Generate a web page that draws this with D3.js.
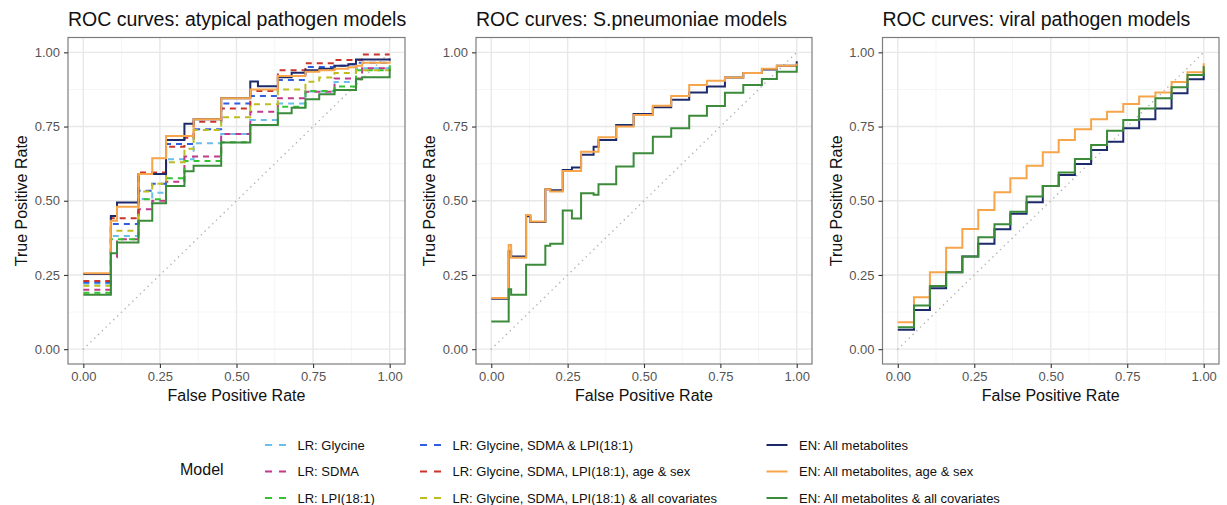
<!DOCTYPE html>
<html><head><meta charset="utf-8">
<script src="https://cdn.jsdelivr.net/npm/d3@7"></script>
<style>body{margin:0;background:#fff}svg{display:block;font-family:"Liberation Sans",Arial,Helvetica,sans-serif}</style>
</head><body><svg id="c" width="1227" height="505"></svg>
<script>
// ---------- data ----------
const panelTitles = ["ROC curves: atypical pathogen models", "ROC curves: S.pneumoniae models", "ROC curves: viral pathogen models"];
const tickValues = [0, 0.25, 0.5, 0.75, 1];
const tickLabels = ["0.00", "0.25", "0.50", "0.75", "1.00"];
const modelNames = ["LR: Glycine", "LR: SDMA", "LR: LPI(18:1)", "LR: Glycine, SDMA & LPI(18:1)", "LR: Glycine, SDMA, LPI(18:1), age & sex", "LR: Glycine, SDMA, LPI(18:1) & all covariates", "EN: All metabolites", "EN: All metabolites, age & sex", "EN: All metabolites & all covariates"];

// atypical pathogen panel: false positive rates and true positive rates
const atypFPR = [0, 0.09, 0.11, 0.18, 0.225, 0.27, 0.33, 0.36, 0.45, 0.545, 0.57, 0.635, 0.68, 0.725, 0.77, 0.82, 0.865, 0.89, 0.91, 1.0];
const atypGlycine = [0.221, 0.381, 0.381, 0.506, 0.527, 0.640, 0.640, 0.694, 0.725, 0.772, 0.772, 0.828, 0.828, 0.868, 0.868, 0.900, 0.900, 0.946, 0.946, 0.960];
const atypSDMA = [0.200, 0.310, 0.370, 0.471, 0.500, 0.564, 0.649, 0.649, 0.725, 0.800, 0.800, 0.845, 0.845, 0.867, 0.867, 0.912, 0.912, 0.912, 0.946, 0.950];
const atypLPI = [0.190, 0.370, 0.370, 0.505, 0.505, 0.576, 0.634, 0.634, 0.697, 0.755, 0.755, 0.817, 0.817, 0.870, 0.870, 0.885, 0.885, 0.940, 0.940, 0.957];
const atypGSL = [0.225, 0.422, 0.422, 0.534, 0.557, 0.691, 0.691, 0.741, 0.828, 0.853, 0.853, 0.907, 0.907, 0.951, 0.951, 0.955, 0.960, 0.965, 0.965, 0.975];
const atypAgeSex = [0.230, 0.441, 0.441, 0.595, 0.595, 0.682, 0.712, 0.766, 0.811, 0.870, 0.870, 0.940, 0.940, 0.963, 0.963, 0.974, 0.974, 0.974, 0.993, 0.993];
const atypAllCov = [0.214, 0.399, 0.399, 0.531, 0.557, 0.630, 0.675, 0.738, 0.781, 0.825, 0.825, 0.875, 0.875, 0.901, 0.915, 0.930, 0.930, 0.940, 0.940, 0.960];
const atypEN = [0.253, 0.449, 0.494, 0.590, 0.590, 0.705, 0.759, 0.775, 0.845, 0.902, 0.886, 0.916, 0.931, 0.940, 0.945, 0.955, 0.960, 0.976, 0.976, 0.980];
const atypENAgeSex = [0.256, 0.433, 0.480, 0.590, 0.643, 0.718, 0.718, 0.775, 0.845, 0.875, 0.875, 0.920, 0.920, 0.935, 0.940, 0.945, 0.950, 0.955, 0.965, 0.970];
const atypENAllCov = [0.183, 0.323, 0.359, 0.433, 0.492, 0.550, 0.599, 0.618, 0.696, 0.755, 0.755, 0.795, 0.813, 0.842, 0.859, 0.873, 0.873, 0.909, 0.916, 0.945];

// S.pneumoniae panel
const pneuFPR = [0, 0.057, 0.065, 0.114, 0.128, 0.177, 0.193, 0.234, 0.264, 0.294, 0.335, 0.351, 0.409, 0.466, 0.529, 0.589, 0.648, 0.706, 0.765, 0.825, 0.886, 0.935, 1.0];
const pneuEN = [0.170, 0.330, 0.312, 0.448, 0.428, 0.539, 0.535, 0.604, 0.612, 0.655, 0.682, 0.705, 0.755, 0.792, 0.815, 0.840, 0.865, 0.885, 0.915, 0.930, 0.942, 0.955, 0.970];
const pneuENAgeSex = [0.172, 0.351, 0.308, 0.452, 0.430, 0.539, 0.531, 0.600, 0.600, 0.665, 0.665, 0.714, 0.750, 0.789, 0.820, 0.853, 0.890, 0.904, 0.915, 0.930, 0.945, 0.955, 0.962];
const pneuENAllCov = [0.093, 0.202, 0.183, 0.284, 0.284, 0.348, 0.355, 0.467, 0.440, 0.525, 0.520, 0.556, 0.615, 0.660, 0.716, 0.744, 0.786, 0.819, 0.864, 0.890, 0.910, 0.935, 0.955];

// viral pathogen panel
const viralFPR = [0, 0.053, 0.105, 0.158, 0.211, 0.263, 0.316, 0.368, 0.421, 0.474, 0.526, 0.579, 0.632, 0.684, 0.737, 0.789, 0.842, 0.895, 0.947, 1.0];
const viralEN = [0.065, 0.132, 0.205, 0.259, 0.312, 0.355, 0.404, 0.456, 0.495, 0.550, 0.587, 0.624, 0.671, 0.699, 0.744, 0.775, 0.811, 0.862, 0.909, 0.935];
const viralENAgeSex = [0.091, 0.175, 0.259, 0.342, 0.405, 0.469, 0.529, 0.576, 0.618, 0.663, 0.705, 0.741, 0.775, 0.800, 0.826, 0.851, 0.865, 0.900, 0.933, 0.963];
const viralENAllCov = [0.074, 0.147, 0.213, 0.259, 0.312, 0.377, 0.421, 0.463, 0.514, 0.550, 0.595, 0.641, 0.688, 0.736, 0.772, 0.811, 0.845, 0.882, 0.924, 0.954];

// ---------- styles ----------
const palette = ["#6BBDEB", "#C2388A", "#33C433", "#2F5FE0", "#C9352C", "#BDBD22", "#1C2A6B", "#F6A54B", "#3B8B3B"];
const dashedModel = [true, true, true, true, true, true, false, false, false];

const panels = [
  {title: panelTitles[0], fpr: atypFPR, series: [[0, atypGlycine], [1, atypSDMA], [2, atypLPI], [3, atypGSL], [4, atypAgeSex], [5, atypAllCov], [6, atypEN], [7, atypENAgeSex], [8, atypENAllCov]], left: 68, right: 405},
  {title: panelTitles[1], fpr: pneuFPR, series: [[6, pneuEN], [7, pneuENAgeSex], [8, pneuENAllCov]], left: 476, right: 812},
  {title: panelTitles[2], fpr: viralFPR, series: [[6, viralEN], [7, viralENAgeSex], [8, viralENAllCov]], left: 882.5, right: 1219}
];
const panelTop = 37.5, panelBottom = 364;

const svg = d3.select("#c");

panels.forEach(p => {
  const x = d3.scaleLinear().domain([-0.05, 1.05]).range([p.left, p.right]);
  const y = d3.scaleLinear().domain([-0.05, 1.05]).range([panelBottom, panelTop]);
  const g = svg.append("g");
  g.append("rect").attr("x", p.left).attr("y", panelTop).attr("width", p.right - p.left).attr("height", panelBottom - panelTop).attr("fill", "#fff");
  const minor = [0.125, 0.375, 0.625, 0.875];
  g.selectAll(".mgx").data(minor).join("line").attr("x1", d => x(d)).attr("x2", d => x(d)).attr("y1", panelTop).attr("y2", panelBottom).attr("stroke", "#f2f2f2").attr("stroke-width", 0.8);
  g.selectAll(".mgy").data(minor).join("line").attr("y1", d => y(d)).attr("y2", d => y(d)).attr("x1", p.left).attr("x2", p.right).attr("stroke", "#f2f2f2").attr("stroke-width", 0.8);
  g.selectAll(".gx").data(tickValues).join("line").attr("x1", d => x(d)).attr("x2", d => x(d)).attr("y1", panelTop).attr("y2", panelBottom).attr("stroke", "#e8e8e8").attr("stroke-width", 1.4);
  g.selectAll(".gy").data(tickValues).join("line").attr("y1", d => y(d)).attr("y2", d => y(d)).attr("x1", p.left).attr("x2", p.right).attr("stroke", "#e8e8e8").attr("stroke-width", 1.4);

  // diagonal reference
  g.append("line").attr("x1", x(0)).attr("y1", y(0)).attr("x2", x(1)).attr("y2", y(1))
    .attr("stroke", "#b5b5b5").attr("stroke-width", 1.5).attr("stroke-dasharray", "0.1,5.2").attr("stroke-linecap", "round");

  const line = d3.line().curve(d3.curveStepAfter).x(d => x(d[0])).y(d => y(d[1]));
  p.series.forEach(([m, tpr]) => {
    const pts = p.fpr.map((f, i) => [f, tpr[i]]);
    g.append("path").attr("d", line(pts)).attr("fill", "none").attr("stroke", palette[m])
      .attr("stroke-width", 2).attr("stroke-dasharray", dashedModel[m] ? "6,5" : null);
  });

  g.append("rect").attr("x", p.left).attr("y", panelTop).attr("width", p.right - p.left).attr("height", panelBottom - panelTop)
    .attr("fill", "none").attr("stroke", "#7d7d7d").attr("stroke-width", 1.2);

  const ax = g.append("g").attr("transform", `translate(0,${panelBottom})`)
    .call(d3.axisBottom(x).tickValues(tickValues).tickFormat((d, i) => tickLabels[i]).tickSize(4).tickPadding(4));
  const ay = g.append("g").attr("transform", `translate(${p.left},0)`)
    .call(d3.axisLeft(y).tickValues(tickValues).tickFormat((d, i) => tickLabels[i]).tickSize(4).tickPadding(4));
  [ax, ay].forEach(a => {
    a.select(".domain").remove();
    a.selectAll(".tick line").attr("stroke", "#333").attr("stroke-width", 1.1);
    a.selectAll(".tick text").attr("fill", "#555").attr("font-size", 13).attr("font-family", null);
  });
  ax.attr("font-family", null); ay.attr("font-family", null);

  g.append("text").attr("x", p.left).attr("y", 25.5).attr("font-size", 19.5).attr("fill", "#111").text(p.title);
  g.append("text").attr("x", (x(0) + x(1)) / 2).attr("y", 401).attr("text-anchor", "middle").attr("font-size", 16).attr("fill", "#111").text("False Positive Rate");
  g.append("text").attr("transform", `translate(${p.left - 41},${(panelTop + panelBottom) / 2}) rotate(-90)`).attr("text-anchor", "middle").attr("font-size", 16).attr("fill", "#111").text("True Positive Rate");
});

// ---------- legend ----------
const lg = svg.append("g");
lg.append("text").attr("x", 180).attr("y", 469).attr("dy", "0.35em").attr("font-size", 16).attr("fill", "#111").text("Model");
const colKeyX = [265, 420, 766.5], colTextX = [297.5, 452.5, 799], rowY = [445, 471.5, 498];
modelNames.forEach((name, i) => {
  const c = Math.floor(i / 3), r = i % 3;
  lg.append("line").attr("x1", colKeyX[c]).attr("x2", colKeyX[c] + 21).attr("y1", rowY[r]).attr("y2", rowY[r])
    .attr("stroke", palette[i]).attr("stroke-width", 2).attr("stroke-dasharray", dashedModel[i] ? "7,7" : null);
  lg.append("text").attr("x", colTextX[c]).attr("y", rowY[r]).attr("dy", "0.35em").attr("font-size", 13).attr("fill", "#111").text(name);
});
</script></body></html>
